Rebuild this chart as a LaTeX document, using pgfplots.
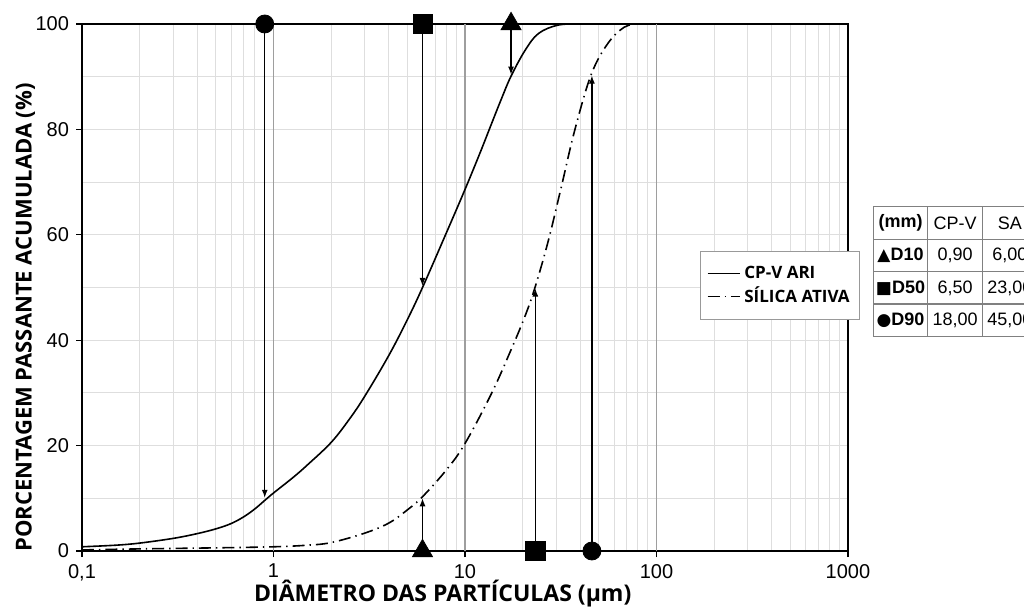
\documentclass[border=0pt]{standalone}
\usepackage{pgfplots}
\pgfplotsset{compat=1.18}
\usetikzlibrary{arrows.meta}
\usepackage{fontspec}
\setmainfont{Liberation Sans}
\newfontfamily\opensans{Open Sans}
\newfontfamily\dejavu{DejaVu Sans}
\definecolor{gridlight}{gray}{0.87}
\definecolor{gridmajor}{gray}{0.62}
\definecolor{tabline}{gray}{0.5}
\pgfplotsset{legend image code/.code={\draw[#1] (0pt,0pt) -- (16pt,0pt);}}
\begin{document}
\begin{tikzpicture}
\useasboundingbox (0,0) rectangle (512pt,303pt);
\begin{axis}[
  at={(41pt,27.5pt)}, anchor=south west,
  scale only axis, width=383pt, height=263.5pt,
  xmode=log, xmin=0.1, xmax=1000, ymin=0, ymax=100,
  xtick={0.1,1,10,100,1000}, xticklabels={{0,1},1,10,100,1000},
  ytick={0,20,40,60,80,100},
  minor ytick={10,30,50,70,90},
  extra x ticks={1,10,100},
  extra x tick labels={},
  extra x tick style={grid=major, major grid style={gridmajor, line width=0.6pt}},
  grid=both,
  major grid style={gridlight, line width=0.5pt},
  minor grid style={gridlight, line width=0.5pt},
  minor tick length=0pt,
  major tick length=3pt,
  tick align=outside, tick pos=left,
  tick style={black, line width=0.6pt},
  axis line style={black, line width=0.8pt},
  /pgf/number format/assume math mode=true,
  tick label style={font=\fontsize{10}{12}\selectfont},
  xlabel={\opensans\bfseries DIÂMETRO DAS PARTÍCULAS (µm)},
  ylabel={\opensans\bfseries PORCENTAGEM PASSANTE ACUMULADA (\%)},
  xlabel style={font=\fontsize{11.5}{13}\selectfont, at={(axis description cs:0.471,-0.08)}, anchor=center},
  ylabel style={font=\fontsize{11}{13}\selectfont, at={(axis description cs:-0.074,0.443)}, anchor=center, rotate=0},
  legend style={at={(0.807,0.569)}, anchor=north west, draw=gray!80, line width=0.6pt,
    font=\opensans\bfseries\fontsize{8.5}{10}\selectfont, cells={anchor=west},
    inner xsep=3pt, inner ysep=5pt, row sep=-1pt},
  clip=false,
]
\addplot[black, line width=0.8pt, smooth, tension=0.6] coordinates {
(0.1,0.8) (0.15,1.1) (0.2,1.5) (0.3,2.4) (0.4,3.3) (0.5,4.2) (0.6,5.2) (0.7,6.5)
(0.8,8.0) (0.9,9.6) (1.0,11.0) (1.27,14.0) (1.5,16.3) (2,20.6) (2.5,25.1) (3,29.4)
(4,37.1) (5,43.9) (6,50) (8,60.4) (10,68.6) (12,75.6) (13.8,81.2) (15.5,85.8)
(17.4,90.1) (20.6,95) (24.2,98.2) (30.7,99.8) (40,100)
};
\addlegendentry{CP-V ARI}
\addplot[black, line width=0.8pt, smooth, tension=0.6,
  dash pattern=on 6pt off 2.5pt on 0.7pt off 2.5pt] coordinates {
(0.1,0.2) (0.2,0.4) (0.5,0.6) (1,0.8) (1.5,1.1) (2,1.6) (3,3.4) (4,5.3) (5,7.8)
(6,10.3) (8,15.4) (10,20.4) (13.8,30.0) (17.6,38.6) (20.6,44.6) (23.2,50.0) (27.2,58.8)
(31.9,69.2) (37.4,79.8) (45.6,90.4) (55.7,96.3) (67.9,99.4) (80,100)
};
\addlegendentry{SÍLICA ATIVA}
% arrows from top
\addplot[forget plot, black, line width=0.6pt, -{Latex[length=4pt,width=3pt]}] coordinates {(0.9,100) (0.9,10.1)};
\addplot[forget plot, black, line width=0.6pt, -{Latex[length=4pt,width=3pt]}] coordinates {(6,100) (6,50.3)};
\addplot[forget plot, black, line width=0.6pt, -{Latex[length=4pt,width=3pt]}] coordinates {(17.4,100) (17.4,90.4)};
% arrows from bottom
\addplot[forget plot, black, line width=0.6pt, -{Latex[length=4pt,width=3pt]}] coordinates {(6,0) (6,10.0)};
\addplot[forget plot, black, line width=0.6pt, -{Latex[length=4pt,width=3pt]}] coordinates {(23.3,0) (23.3,49.8)};
\addplot[forget plot, black, line width=0.6pt, -{Latex[length=4pt,width=3pt]}] coordinates {(46,0) (46,90.2)};
% markers
\addplot[forget plot, only marks, mark=*, mark size=4.5pt, black] coordinates {(0.9,100) (46,0)};
\addplot[forget plot, only marks, mark=square*, mark size=4.8pt, black] coordinates {(6,100) (23.3,0)};
\addplot[forget plot, only marks, mark=triangle*, mark size=5.8pt, black] coordinates {(17.4,100) (6,0)};
\end{axis}
% table
\begin{scope}[tabline, line width=0.6pt]
\draw (436.7pt,199.7pt) -- (520pt,199.7pt);
\draw (436.7pt,183.3pt) -- (520pt,183.3pt);
\draw (436.7pt,167.1pt) -- (520pt,167.1pt);
\draw (436.7pt,151pt) -- (520pt,151pt);
\draw (436.7pt,134.75pt) -- (520pt,134.75pt);
\draw (436.7pt,199.7pt) -- (436.7pt,134.75pt);
\draw (463.8pt,199.7pt) -- (463.8pt,134.75pt);
\draw (491.3pt,199.7pt) -- (491.3pt,134.75pt);
\draw (518.5pt,199.7pt) -- (518.5pt,134.75pt);
\end{scope}
\begin{scope}[every node/.style={font=\fontsize{9}{10}\selectfont, inner sep=0pt}]
\node at (450.25pt,191.5pt) {\bfseries (mm)};
\node at (477.55pt,191.5pt) {CP-V};
\node at (504.9pt,191.5pt) {SA};
\node at (450.25pt,175.2pt) {{\dejavu\fontsize{8.5}{9}\selectfont ▲}\bfseries D10};
\node at (477.55pt,175.2pt) {0,90};
\node at (504.9pt,175.2pt) {6,00};
\node at (450.25pt,159.05pt) {{\dejavu\fontsize{8.5}{9}\selectfont ■}\bfseries D50};
\node at (477.55pt,159.05pt) {6,50};
\node at (504.9pt,159.05pt) {23,00};
\node at (450.25pt,142.9pt) {{\dejavu\fontsize{8.5}{9}\selectfont ●}\bfseries D90};
\node at (477.55pt,142.9pt) {18,00};
\node at (504.9pt,142.9pt) {45,00};
\end{scope}
\end{tikzpicture}
\end{document}
